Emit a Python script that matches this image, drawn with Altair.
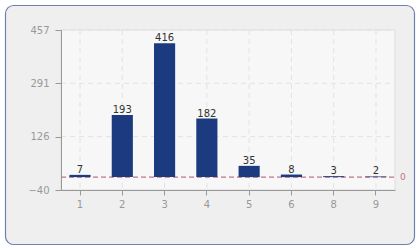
import altair as alt
import pandas as pd

categories = ["1", "2", "3", "4", "5", "6", "8", "9"]
values = [7, 193, 416, 182, 35, 8, 3, 2]
y_ticks = [-40, 125.67, 291.33, 457]
y_min, y_max = -40, 457
ref_value = 0

bars_df = pd.DataFrame({"cat": categories, "val": values})
ticks_df = pd.DataFrame({"t": y_ticks})

W, H = 334, 160
FONT = "DejaVu Sans"

xscale = alt.Scale(domain=categories, paddingInner=0.5, paddingOuter=0.2)
yscale = alt.Scale(domain=[y_min, y_max], nice=False, zero=False)

x_axis = alt.Axis(labelAngle=0, domainColor="#999999", tickColor="#999999",
                  labelColor="#999999", labelFont=FONT, labelFontSize=10,
                  tickSize=5, labelPadding=4, grid=False, zindex=1)
y_axis = alt.Axis(values=y_ticks, labelExpr="format(round(datum.value), 'd')",
                  domainColor="#999999", tickColor="#999999",
                  labelColor="#999999", labelFont=FONT, labelFontSize=10,
                  tickSize=6, labelPadding=6, grid=False, zindex=1)

def xenc(field):
    return alt.X(field, scale=xscale, sort=categories, title=None, axis=x_axis)

def yenc(field):
    return alt.Y(field, scale=yscale, title=None, axis=y_axis)

panel = alt.Chart(bars_df).mark_rect(
    fill="#efefef", stroke="#6f80b2", strokeWidth=1.2, cornerRadius=8, clip=False
).encode(
    x=alt.value(-55.5), x2=alt.value(353.5), y=alt.value(-24.5), y2=alt.value(214.5)
).transform_filter("datum.cat == '1'")

plot_bg = alt.Chart(bars_df).mark_rect(
    fill="#f7f7f7", stroke="#dddddd", strokeWidth=1
).encode(
    x=alt.value(0), x2=alt.value(W), y=alt.value(0), y2=alt.value(H)
).transform_filter("datum.cat == '1'")

vgrid = alt.Chart(bars_df).mark_rule(
    color="#e2e2e2", strokeDash=[5, 4], strokeWidth=1
).encode(
    x=xenc("cat:N"),
    y=alt.value(0), y2=alt.value(H)
)

hgrid = alt.Chart(ticks_df).mark_rule(
    color="#e2e2e2", strokeDash=[5, 4], strokeWidth=1
).encode(
    y=yenc("t:Q"),
    x=alt.value(0), x2=alt.value(W)
)

zero_line = alt.Chart(bars_df).mark_rule(
    color="#c07585", strokeDash=[5, 3], strokeWidth=1.3
).encode(
    y=alt.datum(ref_value, scale=yscale), x=alt.value(0), x2=alt.value(W)
).transform_filter("datum.cat == '1'")

zero_label = alt.Chart(bars_df).mark_text(
    color="#c07585", align="left", baseline="middle", font=FONT, fontSize=9
).encode(
    y=alt.datum(ref_value, scale=yscale), x=alt.value(W + 5), text=alt.value(str(ref_value))
).transform_filter("datum.cat == '1'")

bars = alt.Chart(bars_df).mark_bar(color="#1c3a80").encode(
    x=xenc("cat:N"),
    y=yenc("val:Q"),
    y2=alt.Y2(datum=0),
)

labels = alt.Chart(bars_df).mark_text(
    baseline="alphabetic", dy=-2, color="#333333", font=FONT, fontSize=10
).encode(
    x=xenc("cat:N"),
    y=yenc("val:Q"),
    text=alt.Text("val:Q"),
)

chart = alt.layer(
    panel, plot_bg, vgrid, hgrid, zero_line, bars, labels, zero_label
).properties(
    width=W, height=H,
    padding={"left": 61, "top": 30, "right": 25, "bottom": 60},
    autosize=alt.AutoSizeParams(type="none"),
    background="#ffffff",
).configure_view(stroke=None)

chart.save("out.html", embed_options={"renderer": "svg", "actions": False})
